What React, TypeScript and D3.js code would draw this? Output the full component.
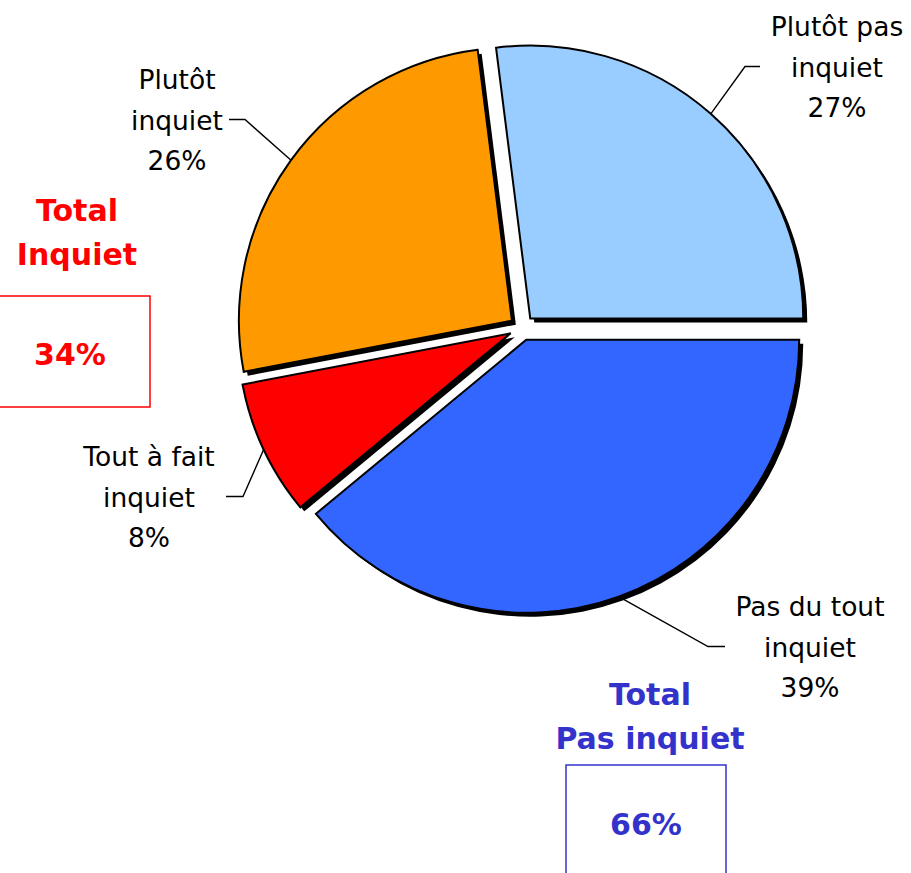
import React from "react";
import * as d3 from "d3";

const categories = ["Plutôt pas inquiet", "Pas du tout inquiet", "Tout à fait inquiet", "Plutôt inquiet"];
const labelLines = [["Plutôt pas", "inquiet"], ["Pas du tout", "inquiet"], ["Tout à fait", "inquiet"], ["Plutôt", "inquiet"]];
const values = [27, 39, 8, 26];
const colors = ["#99CCFF", "#3366FF", "#FF0000", "#FF9900"];

const totalTitles = [["Total", "Inquiet"], ["Total", "Pas inquiet"]];
const totalValues = [34, 66];
const totalColors = ["#FF0000", "#3333CC"];

// layout
const W = 911, H = 873;
const CX = 522, CY = 328, R = 273, EXPLODE = 12.5;
const START = (-7.2 * Math.PI) / 180;
const labelLayout = [
  { x: 837, y: 36, elbowX: 745, endX: 760 },
  { x: 810, y: 616, elbowX: 708, endX: 725 },
  { x: 149, y: 466, elbowX: 243, endX: 226 },
  { x: 177, y: 89, elbowX: 245, endX: 229 },
];
const totalLayout = [
  { x: 77, y: 221, boxX: -10, boxY: 296, boxW: 160, boxH: 111, vx: 70, vy: 365 },
  { x: 650, y: 705, boxX: 566, boxY: 765, boxW: 160, boxH: 130, vx: 646, vy: 835 },
];
const LINE_H = 40.5;

export default function App() {
  const pie = d3.pie<number>().sort(null).value((d) => d).startAngle(START).endAngle(START + 2 * Math.PI);
  const arcs = pie(values);
  const arc = d3.arc<d3.PieArcDatum<number>>().innerRadius(0).outerRadius(R);

  const slices = arcs.map((a, i) => {
    const mid = (a.startAngle + a.endAngle) / 2;
    const dx = EXPLODE * Math.sin(mid);
    const dy = -EXPLODE * Math.cos(mid);
    const px = CX + dx + R * Math.sin(mid);
    const py = CY + dy - R * Math.cos(mid);
    return { a, i, dx, dy, px, py, path: arc(a) as string };
  });

  return (
    <svg width={W} height={H} style={{ position: "absolute", left: 0, top: 0, background: "#fff" }}>
      <g>
        {slices.map((s) => (
          <path key={"sh" + s.i} d={s.path} transform={`translate(${CX + s.dx + 4},${CY + s.dy + 4})`} fill="#000" />
        ))}
        {slices.map((s) => (
          <path
            key={"sl" + s.i}
            d={s.path}
            transform={`translate(${CX + s.dx},${CY + s.dy})`}
            fill={colors[s.i]}
            stroke="#000"
            strokeWidth={2}
            strokeLinejoin="miter"
          />
        ))}
      </g>
      <g fontFamily="DejaVu Sans, sans-serif" fontSize={26.5} fill="#000">
        {slices.map((s) => {
          const L = labelLayout[s.i];
          const lineY = L.y + LINE_H - 10;
          return (
            <g key={"lb" + s.i}>
              <polyline
                points={`${s.px},${s.py} ${L.elbowX},${lineY} ${L.endX},${lineY}`}
                fill="none"
                stroke="#000"
                strokeWidth={1.4}
              />
              <text textAnchor="middle">
                {labelLines[s.i].map((t, k) => (
                  <tspan key={k} x={L.x} y={L.y + k * LINE_H}>
                    {t}
                  </tspan>
                ))}
                <tspan x={L.x} y={L.y + 2 * LINE_H}>
                  {values[s.i] + "%"}
                </tspan>
              </text>
            </g>
          );
        })}
      </g>
      <g fontFamily="DejaVu Sans, sans-serif" fontSize={30} fontWeight="bold">
        {totalValues.map((v, i) => {
          const L = totalLayout[i];
          return (
            <g key={"t" + i} fill={totalColors[i]}>
              <text textAnchor="middle">
                {totalTitles[i].map((t, k) => (
                  <tspan key={k} x={L.x} y={L.y + k * 43.5}>
                    {t}
                  </tspan>
                ))}
              </text>
              <rect x={L.boxX} y={L.boxY} width={L.boxW} height={L.boxH} fill="none" stroke={totalColors[i]} strokeWidth={1.5} />
              <text x={L.vx} y={L.vy} textAnchor="middle">
                {v + "%"}
              </text>
            </g>
          );
        })}
      </g>
    </svg>
  );
}
